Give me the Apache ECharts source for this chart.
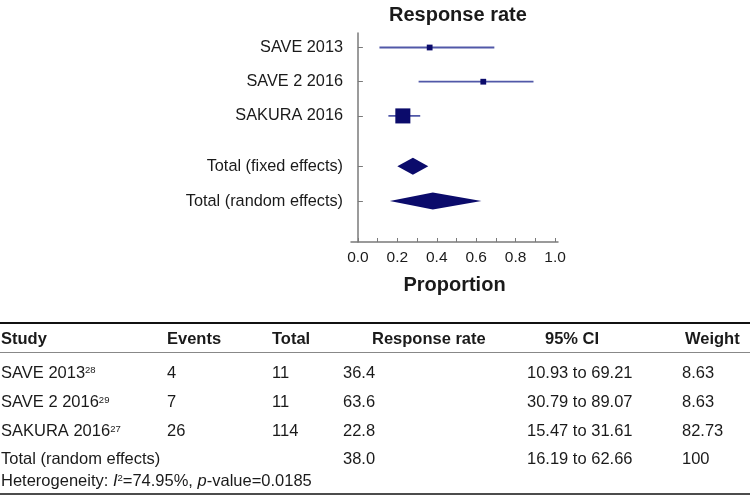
<!DOCTYPE html>
<html>
<head>
<meta charset="utf-8">
<script src="https://cdn.jsdelivr.net/npm/echarts@6/dist/echarts.min.js"></script>
<style>
html,body{margin:0;padding:0;background:#fff;}
#main{width:750px;height:496px;}
</style>
</head>
<body>
<div id="main"></div>
<script>
// ---- Forest plot data ----
var studyNames = ['SAVE 2013', 'SAVE 2 2016', 'SAKURA 2016'];
var studyRates = [0.364, 0.636, 0.228];
var studyLow = [0.1093, 0.3079, 0.1547];
var studyHigh = [0.6921, 0.8907, 0.3161];
var studyWeights = [8.63, 8.63, 82.73];
var pooledNames = ['Total (fixed effects)', 'Total (random effects)'];
var pooledEst = [0.279, 0.380];
var pooledLow = [0.200, 0.1619];
var pooledHigh = [0.357, 0.6266];
var xTickLabels = [0.0, 0.2, 0.4, 0.6, 0.8, 1.0];
var xTicks = [0.0, 0.1, 0.2, 0.3, 0.4, 0.5, 0.6, 0.7, 0.8, 0.9, 1.0];

// ---- Table data ----
var tableHeaders = ['Study', 'Events', 'Total', 'Response rate', '95% CI', 'Weight'];
var tableStudies = ['SAVE 2013', 'SAVE 2 2016', 'SAKURA 2016'];
var tableRefs = ['28', '29', '27'];
var tableEvents = ['4', '7', '26'];
var tableTotals = ['11', '11', '114'];
var tableRates = ['36.4', '63.6', '22.8'];
var tableCI = ['10.93 to 69.21', '30.79 to 89.07', '15.47 to 31.61'];
var tableWeights = ['8.63', '8.63', '82.73'];
var totalRow = ['Total (random effects)', '', '', '38.0', '16.19 to 62.66', '100'];

// ---- layout (positions only) ----
var rowPos = [1, 2, 3, 4.47, 5.49];
var allNames = studyNames.concat(pooledNames);
var FONT = 'Liberation Sans, Arial, Helvetica, sans-serif';
var TXT = '#1a1a1a';
var TFS = 16.5;
var colX = [1, 167, 272, 343, 527, 682];
var headX = [1, 167, 272, 372, 545, 685];
var headerY = 339, rowY = [373, 402.7, 431.7], totalY = 459.3, hetY = 481;

var chart = echarts.init(document.getElementById('main'), null, {renderer: 'canvas'});

var ciData = studyNames.map(function (n, i) { return [studyLow[i], studyHigh[i], rowPos[i]]; });
var sqData = studyNames.map(function (n, i) { return [studyRates[i], rowPos[i], studyWeights[i]]; });
var dmData = pooledNames.map(function (n, i) { return [pooledLow[i], pooledEst[i], pooledHigh[i], rowPos[3 + i]]; });

var graphics = [];
function txt(x, y, text, opt) {
  opt = opt || {};
  var st = {
    text: text, x: x, y: y,
    font: (opt.bold ? 'bold ' : '') + (opt.size || TFS) + 'px ' + FONT,
    fill: TXT, textVerticalAlign: 'middle', textAlign: 'left'
  };
  if (opt.rich) st.rich = opt.rich;
  graphics.push({type: 'text', silent: true, style: st});
}
function hline(y, w, color) {
  graphics.push({type: 'line', silent: true, shape: {x1: 0, y1: y, x2: 750, y2: y}, style: {stroke: color, lineWidth: w}});
}
hline(323, 2, '#111');
hline(352.5, 1, '#888');
hline(494, 1.5, '#111');
tableHeaders.forEach(function (h, i) { txt(headX[i], headerY, h, {bold: true}); });
var supRich = {
  n: {fontSize: TFS, fontFamily: FONT, color: TXT, lineHeight: 15, verticalAlign: 'middle'},
  s: {fontSize: 9.5, fontFamily: FONT, color: TXT, lineHeight: 15, verticalAlign: 'top'}
};
tableStudies.forEach(function (s, i) {
  var y = rowY[i];
  txt(colX[0], y, '{n|' + s + '}{s|' + tableRefs[i] + '}', {rich: supRich});
  txt(colX[1], y, tableEvents[i]);
  txt(colX[2], y, tableTotals[i]);
  txt(colX[3], y, tableRates[i]);
  txt(colX[4], y, tableCI[i]);
  txt(colX[5], y, tableWeights[i]);
});
totalRow.forEach(function (v, i) { if (v) txt(colX[i], totalY, v); });
txt(colX[0], hetY, '{n|Heterogeneity: }{i|I}{s|2}{n|=74.95%, }{i|p}{n|-value=0.0185}', {
  rich: {
    n: supRich.n, s: supRich.s,
    i: {fontSize: TFS, fontFamily: FONT, fontStyle: 'italic', color: TXT, lineHeight: 15, verticalAlign: 'middle'}
  }
});

var option = {
  backgroundColor: '#fff',
  animation: false,
  title: {
    text: 'Response rate', left: 384, top: 0,
    textStyle: {fontFamily: FONT, fontWeight: 'bold', fontSize: 20, color: TXT}
  },
  grid: {left: 351, top: 33, width: 207, height: 209},
  xAxis: {
    type: 'value', min: -0.035, max: 1.015,
    name: 'Proportion', nameLocation: 'middle', nameGap: 33,
    nameTextStyle: {fontFamily: FONT, fontWeight: 'bold', fontSize: 20, color: TXT},
    axisLine: {show: true, lineStyle: {color: '#7a7a7a', width: 1.5}},
    axisTick: {show: true, inside: true, length: 4, customValues: xTicks, lineStyle: {color: '#7a7a7a', width: 1}},
    axisLabel: {customValues: xTickLabels, formatter: function (v) { return v.toFixed(1); },
      fontFamily: FONT, fontSize: 15.5, color: TXT, margin: 8},
    splitLine: {show: false}
  },
  yAxis: {
    type: 'value', inverse: true, min: 0.576, max: 6.686,
    axisLine: {show: true, lineStyle: {color: '#7a7a7a', width: 1.5}},
    axisTick: {show: true, inside: true, length: 5, customValues: rowPos, lineStyle: {color: '#7a7a7a', width: 1}},
    axisLabel: {customValues: rowPos, fontFamily: FONT, fontSize: 16.3, color: TXT, margin: 8,
      formatter: function (v) {
        var idx = 0, best = 1e9;
        rowPos.forEach(function (p, i) { if (Math.abs(p - v) < best) { best = Math.abs(p - v); idx = i; } });
        return allNames[idx];
      }},
    splitLine: {show: false}
  },
  series: [
    {
      type: 'custom', name: 'ci', data: ciData, silent: true,
      renderItem: function (params, api) {
        var a = api.coord([api.value(0), api.value(2)]);
        var b = api.coord([api.value(1), api.value(2)]);
        return {type: 'line', shape: {x1: a[0], y1: a[1], x2: b[0], y2: b[1]},
          style: {stroke: '#5158a8', lineWidth: 1.8}};
      }
    },
    {
      type: 'scatter', name: 'est', data: sqData, symbol: 'rect', silent: true,
      symbolSize: function (v) { return 4.7 + v[2] * 0.125; },
      itemStyle: {color: '#0b0b6b', opacity: 1}, z: 3
    },
    {
      type: 'custom', name: 'pooled', data: dmData, silent: true,
      renderItem: function (params, api) {
        var y = api.value(3);
        var l = api.coord([api.value(0), y]);
        var c = api.coord([api.value(1), y]);
        var r = api.coord([api.value(2), y]);
        var h = 8.5;
        return {type: 'polygon', shape: {points: [[l[0], l[1]], [c[0], c[1] - h], [r[0], r[1]], [c[0], c[1] + h]]},
          style: {fill: '#0b0b6b'}};
      }
    }
  ],
  graphic: graphics
};
chart.setOption(option);
</script>
</body>
</html>
